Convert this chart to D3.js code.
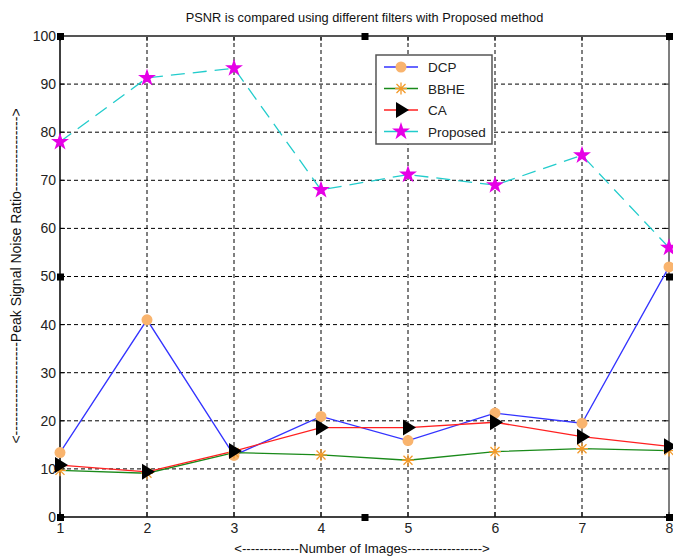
<!DOCTYPE html>
<html><head><meta charset="utf-8">
<script src="https://cdn.jsdelivr.net/npm/d3@7"></script>
<style>body{margin:0;background:#fff}svg{display:block}text{font-family:"Liberation Sans",Arial,sans-serif}</style>
</head><body><svg id="c" width="673" height="556"></svg>
<script>
const images = [1,2,3,4,5,6,7,8];
const dcp = [13.4, 41, 12.8, 20.9, 15.9, 21.6, 19.5, 52];
const bbhe = [9.7, 9.1, 13.4, 12.9, 11.8, 13.6, 14.2, 13.8];
const ca = [10.8, 9.4, 13.7, 18.6, 18.6, 19.7, 16.7, 14.7];
const proposed = [78, 91.3, 93.3, 68, 71.2, 69, 75.2, 56];
const yTicks = [0,10,20,30,40,50,60,70,80,90,100];
const seriesNames = ["DCP","BBHE","CA","Proposed"];
const title = "PSNR is compared using different filters with Proposed method";
const xLabel = "<-------------Number of Images----------------->";
const yLabel = "<--------------------Peak Signal Noise Ratio---------------->";

const svg = d3.select("#c");
const L=60, R=669, T=36, B=517;
const x = d3.scaleLinear().domain([1,8]).range([L,R]);
const y = d3.scaleLinear().domain([0,100]).range([B,T]);

// grid
const g = svg.append("g");
g.selectAll(".vg").data(images.slice(1,-1)).join("line")
 .attr("x1",d=>x(d)).attr("x2",d=>x(d)).attr("y1",T).attr("y2",B)
 .attr("stroke","#000").attr("stroke-width",1).attr("stroke-dasharray","4,3");
g.selectAll(".hg").data(yTicks.slice(1,-1)).join("line")
 .attr("x1",L).attr("x2",R).attr("y1",d=>y(d)).attr("y2",d=>y(d))
 .attr("stroke","#000").attr("stroke-width",1).attr("stroke-dasharray","4,3");

// axes
const xa = svg.append("g").attr("transform",`translate(0,${B})`)
 .call(d3.axisBottom(x).tickValues(images).tickFormat(d3.format("d")).tickSize(0).tickPadding(6));
const ya = svg.append("g").attr("transform",`translate(${L},0)`)
 .call(d3.axisLeft(y).tickValues(yTicks).tickSize(0).tickPadding(4));
[xa,ya].forEach(a=>{a.select(".domain").remove();a.selectAll("text").attr("font-size",14).attr("fill","#222").attr("font-family","Liberation Sans, Arial");});
// ticks inside
svg.append("g").selectAll("line").data(images).join("line")
 .attr("x1",d=>x(d)).attr("x2",d=>x(d)).attr("y1",B).attr("y2",B-5).attr("stroke","#000");
svg.append("g").selectAll("line").data(images).join("line")
 .attr("x1",d=>x(d)).attr("x2",d=>x(d)).attr("y1",T).attr("y2",T+5).attr("stroke","#000");
svg.append("g").selectAll("line").data(yTicks).join("line")
 .attr("x1",L).attr("x2",L+5).attr("y1",d=>y(d)).attr("y2",d=>y(d)).attr("stroke","#000");
svg.append("g").selectAll("line").data(yTicks).join("line")
 .attr("x1",R).attr("x2",R-5).attr("y1",d=>y(d)).attr("y2",d=>y(d)).attr("stroke","#000");

// frame
svg.append("line").attr("x1",L).attr("x2",R).attr("y1",T).attr("y2",T).attr("stroke","#555").attr("stroke-width",2);
svg.append("line").attr("x1",R).attr("x2",R).attr("y1",T).attr("y2",B).attr("stroke","#555").attr("stroke-width",1.5);
svg.append("line").attr("x1",L).attr("x2",R).attr("y1",B).attr("y2",B).attr("stroke","#000").attr("stroke-width",1.5);
svg.append("line").attr("x1",L).attr("x2",L).attr("y1",T).attr("y2",B).attr("stroke","#000").attr("stroke-width",1.5);

// black square handles
const handles = [[1,100],[4.5,100],[8,100],[1,50],[8,50],[1,0],[4.5,0],[8,0]];
svg.append("g").selectAll("rect").data(handles).join("rect")
 .attr("x",d=>x(d[0])-3).attr("y",d=>y(d[1])-3).attr("width",7).attr("height",7).attr("fill","#000");

// series
const lineGen = d3.line().x((d,i)=>x(images[i])).y(d=>y(d));
const series = [
 {name:"DCP",vals:dcp,color:"#3333ff",dash:null,marker:"circle"},
 {name:"BBHE",vals:bbhe,color:"#1a8a1a",dash:null,marker:"aster"},
 {name:"CA",vals:ca,color:"#ff2020",dash:null,marker:"tri"},
 {name:"Proposed",vals:proposed,color:"#22cccc",dash:"14,8",marker:"star"}
];
function drawMarker(sel,type){
 if(type==="circle") sel.append("circle").attr("r",5.5).attr("fill","#f9b46e");
 else if(type==="aster"){
  sel.append("path").attr("d","M-6,0H6M0,-6V6M-4.5,-4.5L4.5,4.5M-4.5,4.5L4.5,-4.5").attr("stroke","#f39a2a").attr("stroke-width",1.3).attr("fill","none");
 } else if(type==="tri") sel.append("path").attr("d","M-5,-8L8,0L-5,8Z").attr("fill","#000");
 else if(type==="star") sel.append("path").attr("d",d3.symbol(d3.symbolStar,100)()).attr("fill","#e600e6");
}
series.forEach(s=>{
 svg.append("path").datum(s.vals).attr("d",lineGen).attr("fill","none").attr("stroke",s.color).attr("stroke-width",1.3)
  .attr("stroke-dasharray",s.dash);
});
series.forEach(s=>{
 s.vals.forEach((v,i)=>{
  const m = svg.append("g").attr("transform",`translate(${x(images[i])},${y(v)})`);
  drawMarker(m,s.marker);
 });
});

// legend
const lg = svg.append("g").attr("transform","translate(376,55)");
lg.append("rect").attr("width",116).attr("height",89).attr("fill","#fff").attr("stroke","#555").attr("stroke-width",1.5);
series.forEach((s,i)=>{
 const yy = 12+i*21.5;
 lg.append("line").attr("x1",8).attr("x2",42).attr("y1",yy).attr("y2",yy).attr("stroke",s.color).attr("stroke-width",1.3);
 const m = lg.append("g").attr("transform",`translate(25,${yy})`);
 drawMarker(m,s.marker);
 lg.append("text").attr("x",52).attr("y",yy+5).attr("font-size",13.5).attr("fill","#222").text(seriesNames[i]);
});

// titles
svg.append("text").attr("x",(L+R)/2).attr("y",22).attr("text-anchor","middle").attr("font-size",12.8).attr("fill","#111").text(title);
svg.append("text").attr("x",362).attr("y",553).attr("text-anchor","middle").attr("font-size",13.2).attr("fill","#111")
 .text(xLabel);
svg.append("text").attr("transform","translate(21,276) rotate(-90)").attr("text-anchor","middle").attr("font-size",14).attr("fill","#111")
 .text(yLabel);
</script></body></html>
